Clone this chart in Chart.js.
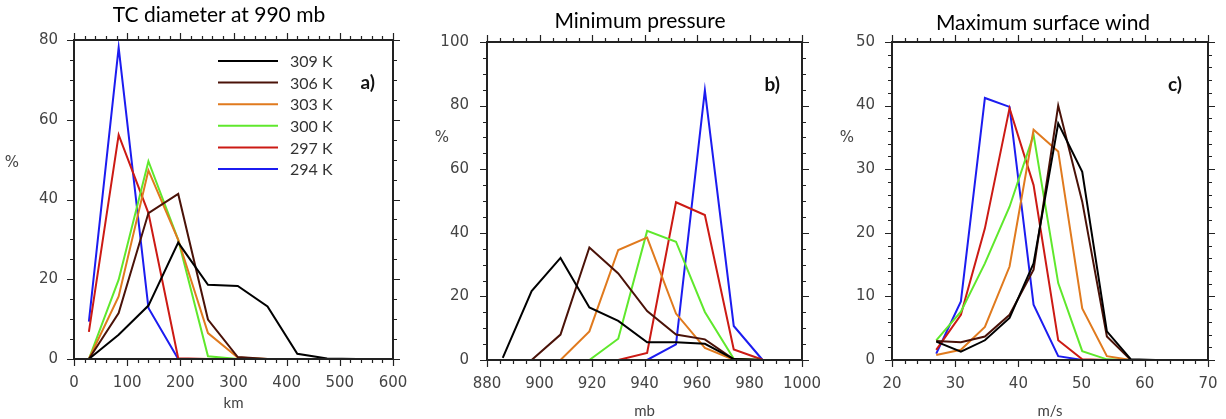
<!DOCTYPE html>
<html>
<head>
<meta charset="utf-8">
<script src="https://cdn.jsdelivr.net/npm/chart.js@4.4.1/dist/chart.umd.min.js"></script>
<style>
  body { margin: 0; background: #fff; width: 1226px; height: 419px; position: relative; overflow: hidden; }
  canvas { position: absolute; top: 0; }
</style>
</head>
<body>
<canvas id="chartA" width="410" height="419" style="left:0"></canvas>
<canvas id="chartB" width="420" height="419" style="left:410px"></canvas>
<canvas id="chartC" width="416" height="419" style="left:810px"></canvas>
<script>
// SST experiments
const seriesLabels = ["309 K", "306 K", "303 K", "300 K", "297 K", "294 K"];
const seriesColors = ["#000000", "#4a1208", "#e07a1e", "#5fe82c", "#cc1a14", "#1c1cf0"];

// a) TC diameter at 990 mb
const diamKm = [28, 84, 140, 196, 252, 308, 364, 420, 476, 532];
const diam309 = [0, 6.1, 13.4, 29.2, 18.6, 18.3, 13.2, 1.3, 0.1, 0];
const diam306 = [0, 11.5, 36.6, 41.4, 9.9, 0.5, 0, 0, 0, 0];
const diam303 = [0, 15.7, 47.3, 29.9, 6.5, 0.4, 0, 0, 0, 0];
const diam300 = [0, 19.9, 49.6, 29.9, 0.7, 0, 0, 0, 0, 0];
const diam297 = [6.8, 56.2, 36.6, 0.2, 0, 0, 0, 0, 0, 0];
const diam294 = [9.4, 78.1, 12.8, 0, 0, 0, 0, 0, 0, 0];

// b) Minimum pressure
const presMb = [886, 897, 908, 919, 930, 941, 952, 963, 974, 985];
const pres309 = [0.7, 21.7, 32.1, 16.5, 12.3, 5.6, 5.6, 5.1, 0.3, 0];
const pres306 = [0, 0, 8, 35.4, 27.2, 15.4, 8, 6.5, 0.2, 0];
const pres303 = [0, 0, 0, 9, 34.6, 38.5, 14.6, 3.8, 0.1, 0];
const pres300 = [0, 0, 0, 0, 6.7, 40.6, 37.2, 15.1, 0.4, 0];
const pres297 = [0, 0, 0, 0, 0, 2.2, 49.6, 45.6, 3.3, 0.1];
const pres294 = [0, 0, 0, 0, 0, 0, 4.9, 84.8, 10.7, 0];

// c) Maximum surface wind
const windMs = [27, 30.9, 34.7, 38.6, 42.4, 46.3, 50.1, 54, 57.8, 61.7];
const wind309 = [2.9, 1.3, 3.1, 6.6, 15.2, 37.2, 29.6, 4.5, 0.1, 0];
const wind306 = [3.0, 2.8, 3.7, 7.1, 14.2, 40.0, 24.9, 3.7, 0, 0];
const wind303 = [0.8, 1.6, 5.2, 14.7, 36.2, 32.8, 8.1, 0.6, 0, 0];
const wind300 = [3.1, 7.6, 15.2, 24.1, 35.4, 12.1, 1.4, 0.1, 0, 0];
const wind297 = [1.6, 7.1, 20.7, 39.6, 27.5, 3.1, 0.1, 0, 0, 0];
const wind294 = [1.0, 9.2, 41.2, 39.8, 8.7, 0.6, 0, 0, 0, 0];

const tickFont = { family: "DejaVu Sans", size: 15 };
const textColor = "#444";

function makeDatasets(xs, ys) {
  return ys.map((vals, i) => ({
    label: seriesLabels[i],
    data: vals.map((v, j) => ({ x: xs[j], y: v })),
    borderColor: seriesColors[i],
    borderWidth: 2,
    pointRadius: 0,
    tension: 0,
    fill: false,
    clip: 4
  }));
}

// title, frame box, outward major/minor ticks on all sides, % label, panel tag, legend
const framePlugin = {
  id: "frame",
  afterDraw(chart, args, o) {
    const { ctx, chartArea: a, scales: { x, y } } = chart;
    ctx.save();
    ctx.strokeStyle = "#222";
    ctx.lineWidth = 1.2;
    const marks = (scale, minor, major, horiz) => {
      for (let v = scale.min; v <= scale.max + 1e-6; v += minor) {
        const p = Math.round(scale.getPixelForValue(v)) + 0.5;
        const isMajor = Math.abs(v / major - Math.round(v / major)) < 1e-6;
        const len = isMajor ? 7 : 4;
        ctx.beginPath();
        if (horiz) {
          ctx.moveTo(p, a.bottom); ctx.lineTo(p, a.bottom + len);
          ctx.moveTo(p, a.top); ctx.lineTo(p, a.top - len);
        } else {
          ctx.moveTo(a.left, p); ctx.lineTo(a.left - len, p);
          ctx.moveTo(a.right, p); ctx.lineTo(a.right + len, p);
        }
        ctx.stroke();
      }
    };
    marks(x, o.xMinor, o.xMajor, true);
    marks(y, o.yMinor, o.yMajor, false);
    ctx.lineWidth = 2;
    ctx.strokeRect(a.left, a.top, a.right - a.left, a.bottom - a.top);

    ctx.textBaseline = "middle";
    ctx.textAlign = "center";
    ctx.fillStyle = "#000";
    ctx.font = "21px Lato";
    ctx.fillText(o.title, o.titleX, o.titleY);

    ctx.fillStyle = textColor;
    ctx.font = "15px 'DejaVu Sans'";
    ctx.fillText("%", o.pctX, o.pctY);

    ctx.fillStyle = "#111";
    ctx.font = "bold 19px Lato";
    ctx.textAlign = "right";
    ctx.fillText(o.tag, a.right - o.tagDx, a.top + 43);

    if (o.legend) {
      ctx.font = "16px Lato";
      ctx.textAlign = "left";
      chart.data.datasets.forEach((ds, i) => {
        const ly = 61 + i * 21.6;
        ctx.strokeStyle = ds.borderColor;
        ctx.lineWidth = 2;
        ctx.beginPath();
        ctx.moveTo(218, ly); ctx.lineTo(278, ly);
        ctx.stroke();
        ctx.fillStyle = "#333";
        ctx.fillText(ds.label, 290, ly + 1);
      });
    }
    ctx.restore();
  }
};

function makeChart(id, cfg) {
  return new Chart(document.getElementById(id), {
    type: "line",
    data: { datasets: makeDatasets(cfg.xs, cfg.ys) },
    plugins: [framePlugin],
    options: {
      responsive: false,
      animation: false,
      layout: { padding: { left: 0, right: cfg.padRight, top: cfg.padTop, bottom: 0 } },
      plugins: {
        legend: { display: false },
        tooltip: { enabled: false },
        title: { display: false },
        frame: cfg.frame
      },
      scales: {
        x: {
          type: "linear",
          min: cfg.xMin, max: cfg.xMax,
          grid: { display: false, drawTicks: false },
          border: { display: false },
          ticks: { stepSize: cfg.xStep, padding: 15, color: textColor, font: tickFont, maxRotation: 0, callback: v => String(v) },
          title: { display: true, text: cfg.xTitle, color: textColor, font: { family: "Lato", size: 15 }, padding: { top: 0, bottom: cfg.xTitlePad } },
          afterFit: s => { s.height = cfg.xHeight; s.paddingLeft = 0; s.paddingRight = 0; }
        },
        y: {
          min: 0, max: cfg.yMax,
          grid: { display: false, drawTicks: false },
          border: { display: false },
          ticks: { stepSize: cfg.yStep, padding: cfg.yPad, color: textColor, font: tickFont, callback: v => String(v) },
          afterFit: s => { s.width = cfg.yWidth; s.paddingTop = 0; s.paddingBottom = 0; }
        }
      }
    }
  });
}

makeChart("chartA", {
  xs: diamKm,
  ys: [diam309, diam306, diam303, diam300, diam297, diam294],
  xMin: 0, xMax: 600, xStep: 100, xTitle: "km", xTitlePad: 7, xHeight: 60,
  yMax: 80, yStep: 20, yPad: 16, yWidth: 74, padRight: 17, padTop: 40,
  frame: { title: "TC diameter at 990 mb", titleX: 219, titleY: 15.5,
           xMinor: 20, xMajor: 100, yMinor: 5, yMajor: 20, pctX: 12, pctY: 163, tag: "a)", tagDx: 18, legend: true }
});

makeChart("chartB", {
  xs: presMb,
  ys: [pres309, pres306, pres303, pres300, pres297, pres294],
  xMin: 880, xMax: 1000, xStep: 20, xTitle: "mb", xTitlePad: -1, xHeight: 59,
  yMax: 100, yStep: 20, yPad: 18, yWidth: 77, padRight: 28, padTop: 42,
  frame: { title: "Minimum pressure", titleX: 230, titleY: 21.5,
           xMinor: 5, xMajor: 20, yMinor: 5, yMajor: 20, pctX: 32, pctY: 138, tag: "b)", tagDx: 22, legend: false }
});

makeChart("chartC", {
  xs: windMs,
  ys: [wind309, wind306, wind303, wind300, wind297, wind294],
  xMin: 20, xMax: 70, xStep: 10, xTitle: "m/s", xTitlePad: -1, xHeight: 59,
  yMax: 50, yStep: 10, yPad: 17, yWidth: 82, padRight: 18, padTop: 42,
  frame: { title: "Maximum surface wind", titleX: 233, titleY: 23,
           xMinor: 2, xMajor: 10, yMinor: 2, yMajor: 10, pctX: 37, pctY: 138, tag: "c)", tagDx: 26, legend: false }
});
</script>
</body>
</html>
